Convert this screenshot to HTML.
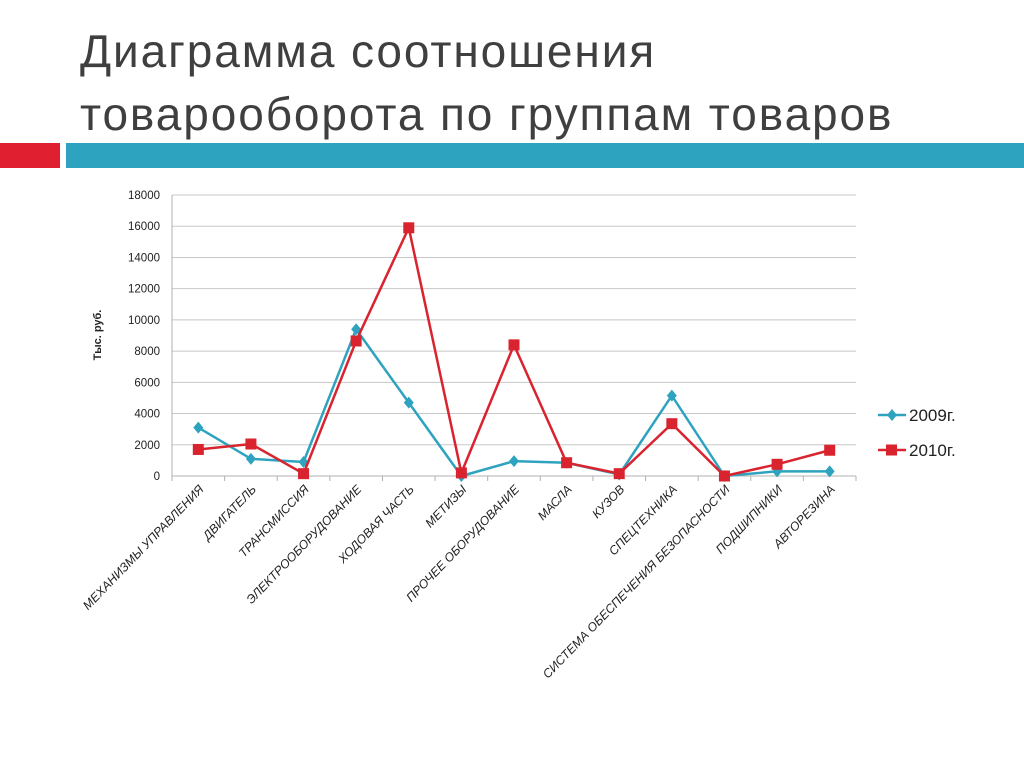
<!DOCTYPE html>
<html><head><meta charset="utf-8"><style>
body{margin:0;width:1024px;height:768px;background:#fff;overflow:hidden;font-family:"Liberation Sans","DejaVu Sans",sans-serif}
.title{position:absolute;left:80px;top:20px;font-size:46px;line-height:63px;color:#3f3f3f;letter-spacing:1.9px}
</style></head><body>
<div class="title">Диаграмма соотношения<br>товарооборота по группам товаров</div>
<div style="position:absolute;left:0;top:143px;width:60px;height:25px;background:#e02030"></div>
<div style="position:absolute;left:66px;top:143px;width:958px;height:25px;background:#2ea3bf"></div>
<svg id="chart" width="1024" height="768" style="position:absolute;left:0;top:0"></svg>
<script>
const categories=["МЕХАНИЗМЫ УПРАВЛЕНИЯ","ДВИГАТЕЛЬ","ТРАНСМИССИЯ","ЭЛЕКТРООБОРУДОВАНИЕ","ХОДОВАЯ ЧАСТЬ","МЕТИЗЫ","ПРОЧЕЕ ОБОРУДОВАНИЕ","МАСЛА","КУЗОВ","СПЕЦТЕХНИКА","СИСТЕМА ОБЕСПЕЧЕНИЯ БЕЗОПАСНОСТИ","ПОДШИПНИКИ","АВТОРЕЗИНА"];
const values2009=[3100,1100,900,9400,4700,0,950,850,100,5150,0,300,300];
const values2010=[1700,2050,150,8650,15900,200,8400,850,150,3350,0,750,1650];
const yTicks=[0,2000,4000,6000,8000,10000,12000,14000,16000,18000];
const seriesNames=["2009г.","2010г."];
const NS="http://www.w3.org/2000/svg";
const svg=document.getElementById('chart');
const L=172,R=856,T=195,B=476,yMax=18000;
const bw=(R-L)/categories.length;
const x=i=>L+bw*(i+0.5);
const y=v=>B-(v/yMax)*(B-T);
function el(t,a,p){const e=document.createElementNS(NS,t);for(const k in a)e.setAttribute(k,a[k]);(p||svg).appendChild(e);return e;}
yTicks.forEach(v=>{
 const g=el('line',{x1:L,x2:R,y1:y(v),y2:y(v),stroke:v===0?'#b0b0b0':'#c8c8c8','stroke-width':1});
 
 
 const t=el('text',{x:L-12,y:y(v)+4,'text-anchor':'end','font-size':11.5,fill:'#222'});
 t.textContent=v;
 
 
});
const ax=el('line',{x1:L,x2:L,y1:T,y2:B,stroke:'#b0b0b0'});


for(let i=0;i<=categories.length;i++){
 const tk=el('line',{x1:L+bw*i,x2:L+bw*i,y1:B,y2:B+5,stroke:'#b0b0b0'});
 
 
}
categories.forEach((c,i)=>{
 const t=el('text',{x:x(i)+6,y:B+14,'text-anchor':'end','font-size':12.3,'font-style':'italic',fill:'#222',transform:`rotate(-46 ${x(i)+6} ${B+14})`});
 t.textContent=c;
 
 
});
const yt=el('text',{x:101,y:335,'text-anchor':'middle','font-size':11,'font-weight':'bold',fill:'#222',transform:'rotate(-90 101 335)'});
yt.textContent='Тыс. руб.';


function series(vals,color,shape,name){
 const pl=el('polyline',{points:vals.map((v,i)=>x(i)+','+y(v)).join(' '),fill:'none',stroke:color,'stroke-width':2.5});
 
 
 vals.forEach((v,i)=>{
  let m;
  if(shape==='sq')m=el('rect',{x:x(i)-5.5,y:y(v)-5.5,width:11,height:11,fill:color});
  else m=el('polygon',{points:`${x(i)},${y(v)-6} ${x(i)+5},${y(v)} ${x(i)},${y(v)+6} ${x(i)-5},${y(v)}`,fill:color});
  
  
 });
}
series(values2009,'#2ea3bf','dia','series-2009');
series(values2010,'#d9232e','sq','series-2010');
[['#2ea3bf','dia',415],['#d9232e','sq',450]].forEach((s,k)=>{
 const ln=el('line',{x1:878,x2:906,y1:s[2],y2:s[2],stroke:s[0],'stroke-width':2.5});
 
 
 let m;
 if(s[1]==='sq')m=el('rect',{x:886,y:s[2]-5.5,width:11,height:11,fill:s[0]});
 else m=el('polygon',{points:`892,${s[2]-6} 897,${s[2]} 892,${s[2]+6} 887,${s[2]}`,fill:s[0]});
 
 
 const t=el('text',{x:909,y:s[2]+6,'font-size':17,fill:'#222'});
 t.textContent=seriesNames[k];
 
 
});
</script>
</body></html>
